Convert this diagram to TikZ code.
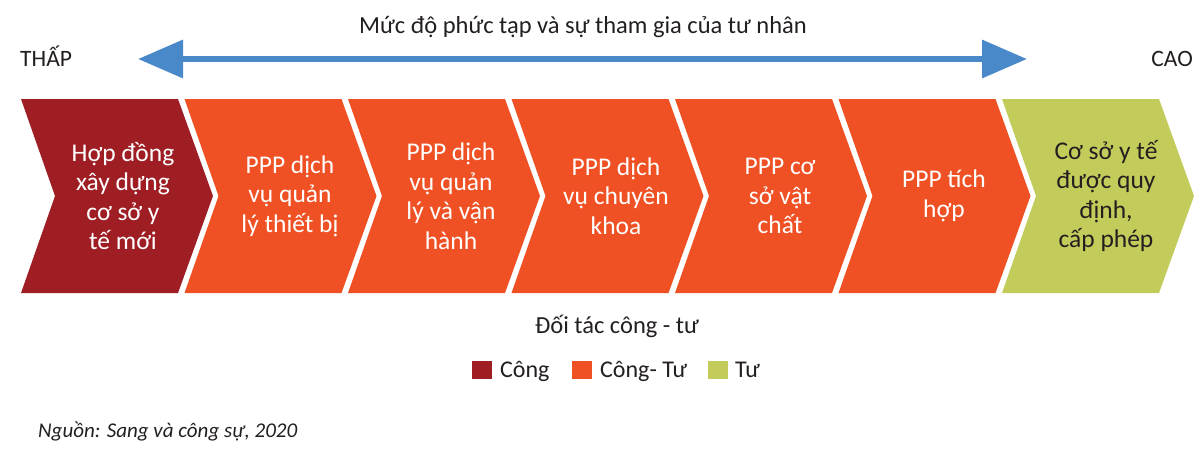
\documentclass[tikz,border=0pt]{standalone}
\usepackage{fontspec}
\setmainfont{Carlito}
\usetikzlibrary{arrows.meta}
\definecolor{pubred}{HTML}{9E1E24}
\definecolor{pporange}{HTML}{EF5124}
\definecolor{privgreen}{HTML}{C3CC5A}
\definecolor{arrowblue}{HTML}{4A89C9}
\definecolor{inkdark}{HTML}{231F20}
\newcommand\chevshape[2]{\fill[#2] (#1,99) -- ++(157,0) -- ++(35,97) -- ++(-35,97) -- ++(-157,0) -- ++(34,-97) -- cycle;}
\begin{document}
\begin{tikzpicture}[x=1pt,y=-1pt,
  chevtext/.style={text=white,align=center,inner sep=0pt,font=\fontsize{25.5}{29.5}\selectfont},
  label/.style={text=inkdark,inner sep=0pt,font=\fontsize{24.5}{28}\selectfont},
  legendbox/.style={inner sep=0pt,minimum width=20pt,minimum height=18pt,anchor=north west},
  bigarrow/.style={arrowblue,line width=6.5pt,{Triangle[length=45pt,width=37pt]}-{Triangle[length=45pt,width=37pt]}}
]
\useasboundingbox[fill=white] (0,0) rectangle (1200,472);

% title and scale arrow
\node[label,anchor=base] (title) at (583,33) {Mức độ phức tạp và sự tham gia của tư nhân};
\node[label,anchor=base west,font=\fontsize{23.5}{28}\selectfont] (low) at (20,66) {THẤP};
\node[label,anchor=base east,font=\fontsize{23.5}{28}\selectfont] (high) at (1193,66) {CAO};
\coordinate (al) at (138,59);
\coordinate (ar) at (1027,59);
\draw[bigarrow] (al) -- (ar);

% chevrons
\chevshape{21}{pubred}
\chevshape{184.5}{pporange}
\chevshape{348}{pporange}
\chevshape{511.5}{pporange}
\chevshape{675}{pporange}
\chevshape{838.5}{pporange}
\chevshape{1002}{privgreen}

\node[chevtext] (c1) at (123,196) {Hợp đồng\\xây dựng\\cơ sở y\\tế mới};
\node[chevtext] (c2) at (290,196) {PPP dịch\\vụ quản\\lý thiết bị};
\node[chevtext] (c3) at (451,196) {PPP dịch\\vụ quản\\lý và vận\\hành};
\node[chevtext] (c4) at (616,196) {PPP dịch\\vụ chuyên\\khoa};
\node[chevtext] (c5) at (780,196) {PPP cơ\\sở vật\\chất};
\node[chevtext] (c6) at (944,196) {PPP tích\\hợp};
\node[chevtext,text=inkdark] (c7) at (1106,196) {Cơ sở y tế\\được quy\\định,\\cấp phép};

% legend
\node[label,anchor=base] (ppp) at (617,333) {Đối tác công - tư};
\node[legendbox,fill=pubred] (k1) at (472,361) {};
\node[label,anchor=base west,font=\fontsize{24}{28}\selectfont] (t1) at (500,377) {Công};
\node[legendbox,fill=pporange] (k2) at (572,361) {};
\node[label,anchor=base west,font=\fontsize{24}{28}\selectfont] (t2) at (600,377) {Công- Tư};
\node[legendbox,fill=privgreen] (k3) at (708,361) {};
\node[label,anchor=base west,font=\fontsize{24}{28}\selectfont] (t3) at (735,377) {Tư};

% source
\node[text=inkdark,inner sep=0pt,anchor=base west,font=\fontsize{21}{25}\selectfont\itshape] (src) at (38,437) {Nguồn: Sang và công sự, 2020};
\end{tikzpicture}
\end{document}
